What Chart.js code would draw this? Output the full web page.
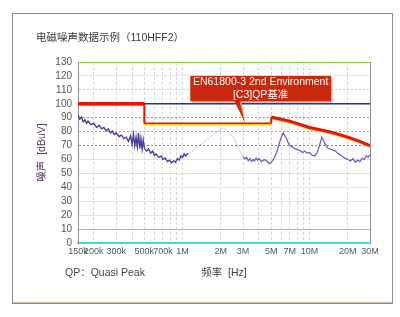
<!DOCTYPE html>
<html>
<head>
<meta charset="utf-8">
<script src="https://cdn.jsdelivr.net/npm/chart.js@4/dist/chart.umd.min.js"></script>
<style>
	html, body { margin: 0; padding: 0; background: #fff; }
	#box { width: 400px; height: 317px; }
</style>
</head>
<body>
<div id="box"><canvas id="emiChart"></canvas></div>
<script>
// frequencies in kHz, levels in dBuV
const noiseLowFreq = [150, 155, 160, 165, 170, 175, 180, 190, 200, 210, 220, 230, 240, 250, 260, 270, 280, 290, 300, 315, 330, 345, 360, 375, 390, 400, 410, 420, 430, 440, 450, 460, 470, 480, 490, 500, 520, 540, 560, 580, 600, 620, 650, 680, 700, 730, 760, 790, 820, 850, 880, 910, 940, 970, 1000, 1030, 1060, 1100];
const noiseLowLevel = [92, 89, 90.5, 87, 88.5, 86, 87.5, 85, 86, 83, 84.5, 82, 83, 80.5, 82, 79, 80.5, 78, 79, 76.5, 77.5, 75, 76, 73, 77, 71, 78, 70, 76, 69, 79, 68, 75, 67.5, 74, 68, 66, 67.5, 64.5, 66, 63, 64, 61.5, 62.5, 60, 61, 58.5, 59.5, 57.5, 59, 58, 60.5, 59.5, 62.5, 61.5, 64, 62.5, 64.5];

const noiseMidFreq = [1100, 1200, 1300, 1400, 1500, 1600, 1700, 1800, 1900, 2000, 2100, 2200, 2300, 2400, 2500, 2600, 2700, 2800, 2900, 3000];
const noiseMidLevel = [64, 66, 69, 71, 73, 75, 77, 79, 80.5, 82, 82.5, 81, 80, 78, 76, 73.5, 70, 67, 64, 62];

const noiseHighFreq = [3000, 3100, 3200, 3300, 3400, 3500, 3600, 3700, 3800, 3900, 4000, 4200, 4400, 4600, 4800, 5000, 5200, 5400, 5600, 5800, 6000, 6200, 6400, 6600, 6800, 7000, 7300, 7600, 8000, 8400, 8800, 9200, 9600, 10000, 10500, 11000, 11500, 12000, 12500, 13000, 13500, 14000, 15000, 16000, 17000, 18000, 19000, 20000, 21000, 22000, 23000, 24000, 25000, 26000, 27000, 28000, 29000, 30000];
const noiseHighLevel = [62, 60.5, 61.5, 59, 60.5, 58.5, 60, 59, 61, 59.5, 60.5, 58.5, 60, 59, 57, 58, 60, 63, 67, 72, 76, 79, 77, 75, 72, 70, 69, 68, 67, 66.5, 65, 66, 64.5, 65, 63, 62.5, 65, 70, 76, 73, 70, 68, 67, 66, 64, 62.5, 61, 60, 59, 60.5, 58, 59.5, 58.5, 61, 60, 62.5, 61.5, 63.5];

const limitFreq = [150, 500, 500, 5000, 5000, 7000, 10000, 15000, 20000, 25000, 30000];
const limitLevel = [100, 100, 86, 86, 90.5, 87.5, 83, 79.5, 76, 73, 70];

const gridFreq = [150, 200, 300, 400, 500, 600, 700, 800, 900, 1000, 2000, 3000, 4000, 5000, 6000, 7000, 8000, 9000, 10000, 20000, 30000];
const tickLabels = {150: '150k', 200: '200k', 300: '300k', 500: '500k', 700: '700k', 1000: '1M', 2000: '2M', 3000: '3M', 5000: '5M', 7000: '7M', 10000: '10M', 20000: '20M', 30000: '30M'};
const levelTicks = [0, 10, 20, 30, 40, 50, 60, 70, 80, 90, 100, 110, 120, 130];

const yGridColors = {0: '#3fd4e6', 10: '#b9aade', 20: '#f2ef7a', 30: '#c3f1f1', 40: '#f3f2a8', 50: '#dddddd', 60: '#cdeedd', 70: '#d64cc6', 80: '#e58aa6', 90: '#9a9a9a', 100: '#2233a6', 110: '#e6c4c4', 120: '#c8eff2', 130: '#9ccc3a'};
const yDotted = [70, 80, 90, 110];

const chartTitle = '电磁噪声数据示例（110HFF2）';
const footNote = 'QP：Quasi Peak';
const calloutLines = ['EN61800-3 2nd Environment', '[C3]QP基准'];
// callout box and pointer, in chart units (kHz, dBuV)
const calloutBox = {f0: 1150, f1: 14800, top: 120, bottom: 101.8};
const calloutTip = {f: 3100, level: 86.3, base0: 2550, base1: 2800};

const toPoints = (freqs, levels) => freqs.map((f, i) => ({x: f * 1000, y: levels[i]}));

const sansFont = '"Liberation Sans", Arial, "Noto Sans CJK SC", sans-serif';

const framePlugin = {
	id: 'frame',
	beforeDraw(chart) {
		const ctx = chart.ctx;
		ctx.save();
		ctx.fillStyle = '#ffffff';
		ctx.fillRect(0, 0, chart.width, chart.height);
		ctx.strokeStyle = '#8e8e8e';
		ctx.lineWidth = 1;
		ctx.strokeRect(12.5, 13.5, 380, 290);
		ctx.strokeStyle = '#c9b9a6';
		ctx.beginPath();
		ctx.moveTo(13, 302.5);
		ctx.lineTo(392, 302.5);
		ctx.stroke();

		ctx.fillStyle = '#3a3a3a';
		ctx.textBaseline = 'middle';
		ctx.font = '10.5px ' + sansFont;
		ctx.fillText(chartTitle, 36, 38);
		ctx.fillStyle = '#444';
		ctx.fillText(footNote, 65, 273);
		ctx.restore();
	},
};

const shiftPlugin = {
	id: 'shift',
	beforeDatasetDraw(chart, args) {
		if (chart.data.datasets[args.index].shiftY) {
			chart.ctx.save();
			chart.ctx.translate(0, chart.data.datasets[args.index].shiftY);
		}
	},
	afterDatasetDraw(chart, args) {
		if (chart.data.datasets[args.index].shiftY) {
			chart.ctx.restore();
		}
	},
};

const calloutPlugin = {
	id: 'callout',
	afterDatasetsDraw(chart) {
		const ctx = chart.ctx;
		const xs = chart.scales.x;
		const ys = chart.scales.y;
		const left = xs.getPixelForValue(calloutBox.f0 * 1000);
		const right = xs.getPixelForValue(calloutBox.f1 * 1000);
		const top = ys.getPixelForValue(calloutBox.top);
		const bottom = ys.getPixelForValue(calloutBox.bottom);
		const tipX = xs.getPixelForValue(calloutTip.f * 1000);
		const tipY = ys.getPixelForValue(calloutTip.level);
		const b0 = xs.getPixelForValue(calloutTip.base0 * 1000);
		const b1 = xs.getPixelForValue(calloutTip.base1 * 1000);

		ctx.save();
		// pointer
		ctx.fillStyle = '#f0a020';
		ctx.beginPath();
		ctx.moveTo(b0, bottom - 1);
		ctx.lineTo(b1 + 2, bottom - 1);
		ctx.lineTo(tipX, tipY);
		ctx.closePath();
		ctx.fill();
		ctx.fillStyle = '#d8260e';
		ctx.beginPath();
		ctx.moveTo(b0, bottom - 1);
		ctx.lineTo(b1, bottom - 1);
		ctx.lineTo(tipX, tipY);
		ctx.closePath();
		ctx.fill();

		// box
		ctx.fillStyle = 'rgba(120, 40, 20, 0.35)';
		ctx.fillRect(left + 1.5, top + 1.5, right - left, bottom - top);
		ctx.fillStyle = '#c8280c';
		ctx.fillRect(left, top, right - left, bottom - top);

		ctx.fillStyle = '#ffffff';
		ctx.textAlign = 'center';
		ctx.textBaseline = 'middle';
		ctx.font = '10.5px ' + sansFont;
		const cx = (left + right) / 2;
		ctx.fillText(calloutLines[0], cx, top + 6.5);
		ctx.fillText(calloutLines[1], cx, top + 19.5);
		ctx.restore();
	},
};

const data = {
	datasets: [
		{
			label: 'noise low',
			data: toPoints(noiseLowFreq, noiseLowLevel),
			borderColor: '#4d3fa2',
			borderWidth: 1.4,
			pointRadius: 0,
			order: 5,
		},
		{
			label: 'noise mid',
			data: toPoints(noiseMidFreq, noiseMidLevel),
			borderColor: '#b9afe0',
			borderWidth: 1,
			borderDash: [1.5, 1],
			pointRadius: 0,
			order: 5,
		},
		{
			label: 'noise high',
			data: toPoints(noiseHighFreq, noiseHighLevel),
			borderColor: '#6f63bd',
			borderWidth: 1.3,
			pointRadius: 0,
			order: 5,
		},
		{
			label: 'limit shade',
			data: toPoints(limitFreq, limitLevel),
			borderColor: '#f4cc10',
			borderWidth: 1.5,
			pointRadius: 0,
			shiftY: 1.5,
			order: 4,
		},
		{
			label: 'QP limit',
			data: toPoints(limitFreq, limitLevel),
			borderColor: '#e8150a',
			pointRadius: 0,
			segment: {
				borderWidth: (c) => {
					const i = c.p0DataIndex;
					if (i === 0) return 3.5;
					if (i === 2) return 1.5;
					if (i === 1 || i === 3) return 2;
					return 3;
				},
			},
			order: 1,
		},
	],
};

const config = {
	type: 'line',
	data: data,
	options: {
		responsive: true,
		maintainAspectRatio: false,
		animation: false,
		events: [],
		layout: {
			padding: {top: 62, right: 30, bottom: 0, left: 0},
		},
		plugins: {
			legend: {display: false},
			tooltip: {enabled: false},
			title: {display: false},
		},
		scales: {
			x: {
				type: 'logarithmic',
				min: 150000,
				max: 30000000,
				afterBuildTicks: (scale) => {
					scale.ticks = gridFreq.map((f) => ({value: f * 1000}));
				},
				afterFit: (scale) => {
					scale.height = 74;
				},
				ticks: {
					autoSkip: false,
					maxRotation: 0,
					minRotation: 0,
					padding: 3,
					color: '#555',
					font: {family: sansFont, size: 9},
					callback: (value) => tickLabels[Math.round(value / 1000)] || '',
				},
				grid: {
					drawTicks: false,
					color: (c) => (c.tick && c.tick.value >= 30000000 ? '#8e8e8e' : '#d6d6d6'),
					lineWidth: 1,
				},
				border: {
					color: '#3fd4e6',
					width: 2,
					dash: (c) => (c.tick && c.tick.value < 30000000 ? [3, 2] : []),
				},
				title: {
					display: true,
					text: '频率  [Hz]',
					color: '#444',
					font: {family: sansFont, size: 10.5},
					padding: {top: 0, bottom: 37.5},
				},
			},
			y: {
				min: 0,
				max: 130,
				afterBuildTicks: (scale) => {
					scale.ticks = levelTicks.map((v) => ({value: v}));
				},
				afterFit: (scale) => {
					scale.width = 78;
				},
				ticks: {
					autoSkip: false,
					padding: 6,
					color: '#555',
					font: {family: sansFont, size: 10},
				},
				grid: {
					drawTicks: false,
					color: (c) => (c.tick ? yGridColors[c.tick.value] || '#ddd' : '#ddd'),
					lineWidth: (c) => (c.tick && (c.tick.value === 100 || c.tick.value === 0) ? 1.5 : 1),
				},
				border: {
					color: '#8e8e8e',
					width: 1,
					dash: (c) => (c.tick && yDotted.includes(c.tick.value) ? [2, 2] : []),
				},
				title: {
					display: true,
					text: '噪声  [dBuV]',
					color: '#5b3b62',
					font: {family: sansFont, size: 10.5},
					padding: {top: 36, bottom: 0},
				},
			},
		},
	},
	plugins: [framePlugin, shiftPlugin, calloutPlugin],
};

const ctx = document.getElementById('emiChart').getContext('2d');
const emiChart = new Chart(ctx, config);
</script>
</body>
</html>
